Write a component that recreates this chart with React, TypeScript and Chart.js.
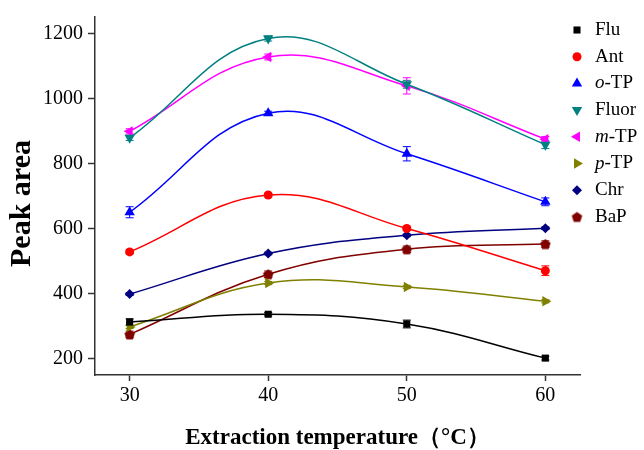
import React, { useEffect, useRef } from "react";
import { Chart, registerables } from "chart.js";
import { drawPoint } from "chart.js/helpers";

Chart.register(...registerables);

const temps = [30, 40, 50, 60];
const xTicks = [30, 40, 50, 60];
const yTicks = [200, 400, 600, 800, 1000, 1200];

const flu = [313, 337, 307, 202];
const fluErr = [10, 5, 12, 6];
const ant = [529, 704, 601, 471];
const antErr = [6, 6, 6, 15];
const oTP = [651, 956, 831, 683];
const oTPErr = [17, 6, 22, 12];
const fluor = [880, 1186, 1045, 859];
const fluorErr = [8, 8, 12, 12];
const mTP = [900, 1129, 1040, 876];
const mTPErr = [8, 9, 25, 8];
const pTP = [298, 433, 421, 377];
const pTPErr = [5, 5, 5, 5];
const chr = [399, 524, 580, 602];
const chrErr = [4, 4, 4, 4];
const bap = [275, 460, 537, 553];
const bapErr = [10, 10, 10, 10];

const seriesNames = ["Flu", "Ant", "o-TP", "Fluor", "m-TP", "p-TP", "Chr", "BaP"];
const legendItalic = ["", "", "o", "", "m", "p", "", ""];
const legendRest = ["Flu", "Ant", "-TP", "Fluor", "-TP", "-TP", "Chr", "BaP"];
const colors = ["#000000", "#ff0000", "#0000ff", "#008080", "#ff00ff", "#808000", "#000080", "#800000"];

const FONT = "'Liberation Serif', 'Times New Roman', serif";

function makePentagon(color: string, r: number): HTMLCanvasElement {
  const s = Math.ceil(r * 2 + 2);
  const c = document.createElement("canvas");
  c.width = s;
  c.height = s;
  const ctx = c.getContext("2d")!;
  ctx.fillStyle = color;
  ctx.beginPath();
  for (let i = 0; i < 5; i++) {
    const a = -Math.PI / 2 + (i * 2 * Math.PI) / 5;
    const px = s / 2 + r * Math.cos(a);
    const py = s / 2 + r * Math.sin(a) + 0.5;
    if (i === 0) ctx.moveTo(px, py);
    else ctx.lineTo(px, py);
  }
  ctx.closePath();
  ctx.fill();
  return c;
}

export default function App() {
  const ref = useRef<HTMLCanvasElement>(null);
  useEffect(() => {
    if (!ref.current) return;
    const pent = makePentagon(colors[7], 5.5);
    const values = [flu, ant, oTP, fluor, mTP, pTP, chr, bap];
    const errs = [fluErr, antErr, oTPErr, fluorErr, mTPErr, pTPErr, chrErr, bapErr];
    const styles: any[] = ["rect", "circle", "triangle", "triangle", "triangle", "triangle", "rectRot", pent];
    const rotations = [0, 0, 0, 180, 270, 90, 0, 0];
    const radii = [5, 4.5, 6, 6, 6, 6, 5, 6];

    const datasets = values.map((v, i) => ({
      label: seriesNames[i],
      data: v.map((y, j) => ({ x: temps[j], y })),
      errs: errs[i],
      borderColor: colors[i],
      backgroundColor: colors[i],
      borderWidth: 1.5,
      pointStyle: styles[i],
      pointRotation: rotations[i],
      pointRadius: radii[i],
      pointBorderWidth: 0,
      tension: 0.4,
      fill: false,
    }));

    const errorBars = {
      id: "errorBars",
      beforeDatasetsDraw(chart: any) {
        const { ctx } = chart;
        const xs = chart.scales.x;
        const ys = chart.scales.y;
        ctx.save();
        chart.data.datasets.forEach((ds: any) => {
          ctx.strokeStyle = ds.borderColor;
          ctx.lineWidth = 1;
          ds.data.forEach((p: any, j: number) => {
            const e = ds.errs[j];
            const x = xs.getPixelForValue(p.x);
            const y1 = ys.getPixelForValue(p.y + e);
            const y2 = ys.getPixelForValue(p.y - e);
            ctx.beginPath();
            ctx.moveTo(x, y1);
            ctx.lineTo(x, y2);
            ctx.moveTo(x - 4, y1);
            ctx.lineTo(x + 4, y1);
            ctx.moveTo(x - 4, y2);
            ctx.lineTo(x + 4, y2);
            ctx.stroke();
          });
        });
        ctx.restore();
      },
    };

    const legendPlugin = {
      id: "customLegend",
      afterDraw(chart: any) {
        const { ctx } = chart;
        ctx.save();
        const x0 = 577;
        const y0 = 30;
        const dy = 26.7;
        chart.data.datasets.forEach((ds: any, i: number) => {
          const y = y0 + i * dy;
          ctx.fillStyle = ds.backgroundColor;
          ctx.strokeStyle = ds.borderColor;
          drawPoint(ctx, { pointStyle: ds.pointStyle, rotation: ds.pointRotation, radius: ds.pointRadius, borderWidth: 0 }, x0, y);
          ctx.fillStyle = "#000";
          ctx.textBaseline = "middle";
          ctx.textAlign = "left";
          let tx = 595;
          if (legendItalic[i]) {
            ctx.font = `italic 19px ${FONT}`;
            ctx.fillText(legendItalic[i], tx, y);
            tx += ctx.measureText(legendItalic[i]).width;
          }
          ctx.font = `19px ${FONT}`;
          ctx.fillText(legendRest[i], tx, y);
        });
        ctx.restore();
      },
    };

    const chart = new Chart(ref.current, {
      type: "line",
      data: { datasets: datasets as any },
      options: {
        animation: false,
        responsive: false,
        layout: { padding: { left: 0, top: 14, right: 64, bottom: 0 } },
        plugins: { legend: { display: false }, tooltip: { enabled: false } },
        scales: {
          x: {
            type: "linear",
            min: 27.5,
            max: 62.5,
            afterBuildTicks: (s: any) => {
              s.ticks = xTicks.map((v) => ({ value: v }));
            },
            afterFit: (s: any) => {
              s.height = 75;
            },
            grid: { drawOnChartArea: false, drawTicks: true, tickLength: 6, color: "#333", tickWidth: 1.5 },
            border: { color: "#333", width: 1.5 },
            ticks: { color: "#000", font: { family: FONT, size: 20 }, padding: 3, maxRotation: 0, callback: (v: any) => String(v) },
            title: {
              display: true,
              text: "Extraction temperature（°C）",
              color: "#000",
              font: { family: FONT, size: 23, weight: "bold", lineHeight: 1 },
              padding: { top: 0, bottom: 0 },
            },
          },
          y: {
            type: "linear",
            min: 150,
            max: 1252,
            afterBuildTicks: (s: any) => {
              s.ticks = yTicks.map((v) => ({ value: v }));
            },
            afterFit: (s: any) => {
              s.width = 95;
            },
            grid: { drawOnChartArea: false, drawTicks: true, tickLength: 7, color: "#333", tickWidth: 1.5 },
            border: { color: "#333", width: 1.5 },
            ticks: { color: "#000", font: { family: FONT, size: 20 }, padding: 5, callback: (v: any) => String(v) },
            title: {
              display: true,
              text: "Peak area  ",
              color: "#000",
              font: { family: FONT, size: 30, weight: "bold", lineHeight: 1 },
              padding: { top: 7, bottom: 0 },
            },
          },
        },
      } as any,
      plugins: [errorBars, legendPlugin],
    });
    return () => chart.destroy();
  }, []);

  return (
    <div style={{ position: "absolute", left: 0, top: 0, width: 644, height: 450, background: "#fff" }}>
      <canvas ref={ref} width={644} height={450} />
    </div>
  );
}
